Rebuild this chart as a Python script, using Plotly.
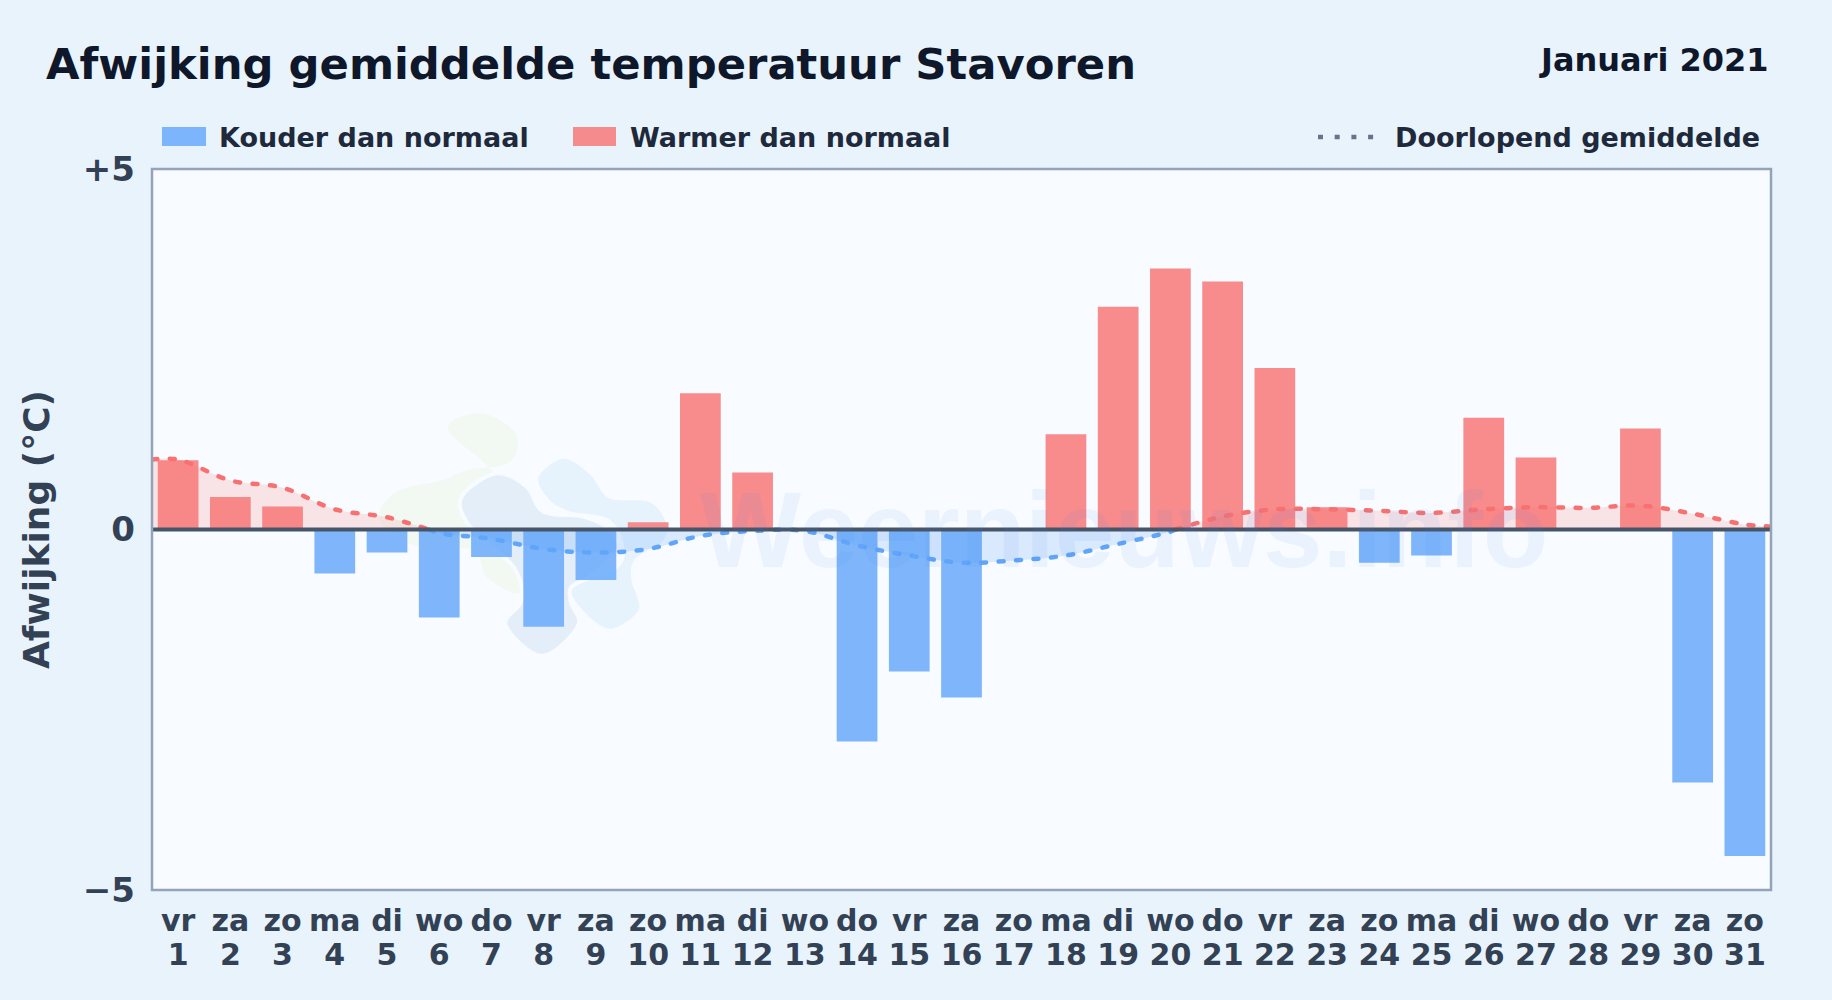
import plotly.graph_objects as go

W, H = 1832, 1000
L, R, T, B = 152, 1771, 169, 890

weekdays = ["vr","za","zo","ma","di","wo","do","vr","za","zo","ma","di","wo","do","vr","za","zo","ma","di","wo","do","vr","za","zo","ma","di","wo","do","vr","za","zo"]
days = list(range(1, 32))
deviation = [0.96,0.45,0.32,-0.61,-0.32,-1.22,-0.38,-1.35,-0.70,0.10,1.89,0.79,-0.02,-2.94,-1.97,-2.33,0.0,1.32,3.09,3.62,3.44,2.24,0.31,-0.46,-0.36,1.55,1.00,0.0,1.40,-3.51,-4.53]

warm_mean_x1 = [0.5,1,2,3,4,5,5.8]
warm_mean_y1 = [0.97,0.97,0.68,0.58,0.28,0.17,0.0]
cold_mean_x = [5.8,6,7,8,9,10,11,12,13,14,15,16,17,18,19,20,20.1]
cold_mean_y = [0.0,-0.05,-0.13,-0.27,-0.32,-0.27,-0.09,-0.02,-0.02,-0.22,-0.36,-0.46,-0.43,-0.36,-0.20,-0.03,0.0]
warm_mean_x2 = [20.1,21,22,23,24,25,26,27,28,29,30,31,31.5]
warm_mean_y2 = [0.0,0.18,0.28,0.28,0.26,0.23,0.28,0.31,0.30,0.33,0.22,0.07,0.04]

BLUE, RED = "#60a5fa", "#f87171"
BLUE_FILL, RED_FILL = "rgba(96,165,250,0.2)", "rgba(248,113,113,0.17)"
INK, LABEL, AXIS = "#0f172a", "#334155", "#1e293b"
PLOT_BG = "#f8fbff"
FONT = "DejaVu Sans"

def fx(p): return (p - L) / (R - L)
def fy(p): return (B - p) / (B - T)

def blob(points):
    pts = [(fx(x), fy(y)) for x, y in points]
    n = len(pts)
    d = f"M{pts[0][0]:.5f},{pts[0][1]:.5f}"
    for i in range(n):
        p0, p1, p2, p3 = pts[i-1], pts[i], pts[(i+1) % n], pts[(i+2) % n]
        c1 = (p1[0] + (p2[0]-p0[0])/6, p1[1] + (p2[1]-p0[1])/6)
        c2 = (p2[0] - (p3[0]-p1[0])/6, p2[1] - (p3[1]-p1[1])/6)
        d += f" C{c1[0]:.5f},{c1[1]:.5f} {c2[0]:.5f},{c2[1]:.5f} {p2[0]:.5f},{p2[1]:.5f}"
    return d + " Z"

def z(points):
    return [(300 + x/3, 380 + y/3) for x, y in points]

logo_green = z([(445,150),(540,100),(640,150),(650,215),(610,255),(500,270),(430,300),(300,330),(240,390),(260,450),(360,500),(520,510),(560,590),(660,640),(720,560),(600,300)])
logo_dark = z([(485,350),(590,280),(680,320),(730,395),(850,410),(930,450),(950,520),(815,640),(835,735),(725,828),(617,735),(665,660),(640,560),(510,440)])
logo_light = z([(710,290),(790,230),(875,280),(930,350),(1050,360),(1105,430),(1090,490),(1010,540),(1000,600),(1022,690),(930,752),(840,690),(815,620),(950,560),(965,490),(920,420),(810,400),(745,365)])

fig = go.Figure()

for xs, ys, fc in [(warm_mean_x1, warm_mean_y1, RED_FILL), (cold_mean_x, cold_mean_y, BLUE_FILL), (warm_mean_x2, warm_mean_y2, RED_FILL)]:
    fig.add_trace(go.Scatter(x=xs, y=ys, mode="lines", fill="tozeroy", fillcolor=fc,
                             line=dict(width=0, shape="spline", smoothing=1), showlegend=False, hoverinfo="skip"))

fig.add_trace(go.Bar(x=[d for d, v in zip(days, deviation) if v < 0], y=[v for v in deviation if v < 0],
                     name="Kouder dan normaal", marker=dict(color=BLUE, opacity=0.8, line_width=0), width=0.78, showlegend=False))
fig.add_trace(go.Bar(x=[d for d, v in zip(days, deviation) if v > 0], y=[v for v in deviation if v > 0],
                     name="Warmer dan normaal", marker=dict(color=RED, opacity=0.8, line_width=0), width=0.78, showlegend=False))

for xs, ys, c in [(warm_mean_x1, warm_mean_y1, RED), (cold_mean_x, cold_mean_y, BLUE), (warm_mean_x2, warm_mean_y2, RED)]:
    fig.add_trace(go.Scatter(x=xs, y=ys, mode="lines", name="Doorlopend gemiddelde",
                             line=dict(color=c, width=4.5, dash="5px,12.5px", shape="spline", smoothing=1), showlegend=False))

# carrier for the second row of tick labels
fig.add_trace(go.Scatter(x=days, y=[0]*31, xaxis="x2", mode="markers", marker=dict(opacity=0), showlegend=False, hoverinfo="skip"))

shapes = []
for pts, col, edge in [(logo_green, "#f2f9f3", 0), (logo_dark, "#e4eef8", 4), (logo_light, "#e6f3fd", 4)]:
    shapes.append(dict(type="path", path=blob(pts), xref="paper", yref="paper", fillcolor=col,
                       line=dict(color=PLOT_BG, width=edge), layer="below"))
shapes.append(dict(type="line", xref="paper", yref="y", x0=0, x1=1, y0=0, y1=0, line=dict(color="#475569", width=4), layer="above"))
shapes.append(dict(type="rect", xref="paper", yref="paper", x0=0, x1=1, y0=0, y1=1, line=dict(color="#94a3b8", width=2.5), layer="above"))
# legend swatches
shapes.append(dict(type="rect", xref="paper", yref="paper", x0=fx(162), x1=fx(206), y0=fy(127), y1=fy(146), fillcolor=BLUE, opacity=0.8, line_width=0))
shapes.append(dict(type="rect", xref="paper", yref="paper", x0=fx(573), x1=fx(616), y0=fy(127), y1=fy(146), fillcolor=RED, opacity=0.8, line_width=0))
shapes.append(dict(type="line", xref="paper", yref="paper", x0=fx(1318), x1=fx(1376), y0=fy(137), y1=fy(137), line=dict(color="#64748b", width=4.5, dash="5px,11.7px")))

def text(s, px, py, size, color, anchor="left", **kw):
    return dict(text=s, x=fx(px), y=fy(py), xref="paper", yref="paper", xanchor=anchor, yanchor="middle",
                showarrow=False, font=dict(family=FONT, size=size, color=color, weight="bold"), **kw)

annotations = [
    text("Januari 2021", 1771, 60, 32, INK, "right"),
    text("Kouder dan normaal", 217, 137, 27, AXIS),
    text("Warmer dan normaal", 628, 137, 27, AXIS),
    text("Doorlopend gemiddelde", 1762, 137, 27, AXIS, "right"),
    dict(text="Weernieuws.info", x=fx(1124), y=fy(530), xref="paper", yref="paper", xanchor="center", yanchor="middle",
         showarrow=False, font=dict(family="Liberation Sans", size=107, color="rgba(59,130,246,0.07)", weight="bold")),
]

xtick_font = dict(family=FONT, size=30, color=LABEL, weight="bold")
ytick_font = dict(family=FONT, size=34, color=LABEL, weight="bold")
fig.update_layout(
    width=W, height=H,
    margin=dict(l=L, r=W-R, t=T, b=H-B, pad=0),
    paper_bgcolor="#e8f3fc", plot_bgcolor=PLOT_BG,
    barmode="overlay", showlegend=False,
    title=dict(text="Afwijking gemiddelde temperatuur Stavoren", x=46/W, xref="container", xanchor="left",
               y=1-64/H, yref="container", yanchor="middle", font=dict(family=FONT, size=43.3, color=INK, weight="bold")),
    xaxis=dict(range=[0.5, 31.5], tickmode="array", tickvals=days, ticktext=weekdays, tickfont=xtick_font,
               showgrid=False, zeroline=False, ticks="", ticklabelstandoff=10, showline=False),
    xaxis2=dict(range=[0.5, 31.5], overlaying="x", side="bottom", anchor="y", tickmode="array", tickvals=days,
                ticktext=[str(d) for d in days], tickfont=xtick_font, showgrid=False, zeroline=False,
                ticks="", ticklabelstandoff=44, showline=False),
    yaxis=dict(range=[-5, 5], tickmode="array", tickvals=[5, 0, -5], ticktext=["+5", "0", "−5"], tickfont=ytick_font,
               showgrid=False, zeroline=False, ticks="", ticklabelstandoff=16, showline=False,
               title=dict(text="Afwijking (°C)", font=dict(family=FONT, size=36, color=LABEL, weight="bold"), standoff=21.5)),
    shapes=shapes, annotations=annotations,
)

post = ("document.body.style.margin='0';document.body.style.background='#e8f3fc';"
        "var roundCaps=function(){document.querySelectorAll('.scatterlayer .js-line').forEach(function(e){e.style.strokeLinecap='round';});};"
        "roundCaps();setTimeout(roundCaps,100);")
fig.write_html("out.html", config={"displayModeBar": False}, post_script=post)
